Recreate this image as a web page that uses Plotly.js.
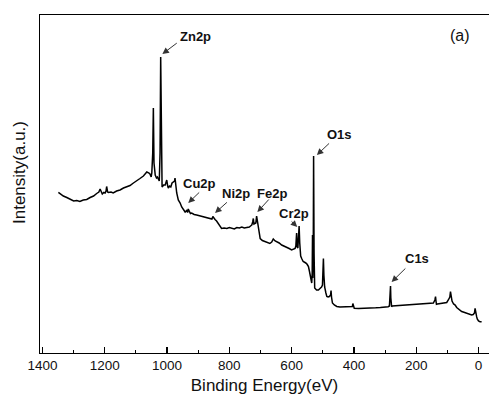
<!DOCTYPE html>
<html>
<head>
<meta charset="utf-8">
<script src="https://cdn.plot.ly/plotly-3.0.1.min.js"></script>
<style>
  html, body { margin: 0; padding: 0; background: #fff; overflow: hidden; }
  #chart { width: 489px; height: 396px; }
</style>
</head>
<body>
<div id="chart"></div>
<script>
// Binding energy (eV)
const energy = [1349, 1340, 1333, 1322, 1312, 1300, 1290, 1280, 1269, 1258, 1247, 1236, 1226, 1219, 1215, 1211, 1208, 1203, 1199, 1196, 1194, 1191, 1188, 1180, 1173, 1162, 1151, 1140, 1130, 1119, 1108, 1097, 1087, 1076, 1065, 1058, 1055, 1051, 1049, 1046, 1044, 1042, 1038, 1034, 1031, 1025, 1022.5, 1020.5, 1018.5, 1016, 1011, 1006, 1003, 1001, 998, 996, 992, 988, 984, 980, 976, 974.5, 972, 969, 964, 958, 953, 948, 942, 937, 934, 932, 929, 925, 921, 913, 905, 894, 884, 873, 862, 856, 853, 851, 846, 841, 833, 825, 817, 808, 800, 792, 784, 776, 768, 760, 752, 744, 736, 730, 728, 725, 723, 721, 718, 715, 712.5, 710.5, 707, 704, 701, 694, 686, 678, 670, 664, 659, 653, 648, 640, 632, 624, 616, 608, 600, 594, 589, 586.5, 584, 582, 580, 578, 576, 574, 571, 567, 563, 557, 552, 549, 546, 543, 541, 538, 535.5, 534, 533, 532, 530.5, 529.5, 528, 526, 520, 514, 509, 504, 501, 499, 498, 496.5, 494, 490, 487, 483, 479, 475, 473.5, 472, 469, 463, 455, 445, 430, 418, 410, 405, 403.5, 402, 399, 385, 370, 359, 345, 330, 315, 306, 296, 290, 286, 284, 282.5, 281.5, 280.5, 279, 277, 265, 252, 225, 198, 172, 145, 140, 138, 136.5, 135, 132, 120, 110, 102, 97, 92, 90, 88.5, 87, 85, 80, 75, 70, 62, 54, 49, 44, 38, 33, 27, 22, 17, 13, 11, 9.5, 8, 6, 4, 0, -5, -10, -15];
// Intensity (a.u.)
const intensity = [160.7, 158.5, 157, 155.5, 154, 152, 152.5, 151.5, 153, 153.5, 155.5, 157, 159.5, 161, 164, 160, 159, 160.5, 160, 162, 166.5, 161, 160.5, 161, 160, 162, 163, 165, 166.5, 167.5, 170, 172, 174.5, 177, 181, 180, 179, 176, 180, 200, 245, 190, 178, 175, 176, 172, 200, 296, 200, 166, 168, 168, 171, 173, 167, 165, 167, 166, 170, 171, 172, 175, 168, 160, 153, 150, 146, 143, 141, 142.5, 140.5, 144, 141, 139.5, 140, 138.5, 138, 137, 136, 135.5, 134.5, 134, 136.5, 135.5, 133.5, 132, 128, 124.5, 125, 124.5, 125.5, 125, 124, 125.5, 125, 126, 125, 125.5, 126, 127.5, 128, 131, 134.5, 129, 129.5, 130, 137, 133, 124.5, 118, 114.5, 112.5, 111.5, 110, 109.5, 111, 114, 112, 111.5, 110, 108, 107, 105.5, 104.5, 103, 103.5, 104.5, 107, 120, 106, 105, 116, 127, 110, 97, 94, 91.5, 90.5, 89.5, 88, 86.5, 82, 79.5, 74, 70, 80, 118, 75, 110, 197, 100, 65, 63, 63, 64.5, 66, 68, 80, 94.5, 78, 66, 60, 56.5, 56, 56.5, 58, 62.5, 56, 50, 48, 46.5, 46, 46, 46.5, 46, 46.5, 49.5, 46, 44.7, 44.5, 44.5, 44.8, 45, 45.2, 45.5, 45.7, 46, 46.3, 47, 55, 67, 55, 47, 46.3, 47, 47.3, 47.5, 48, 48.3, 49, 50, 53, 56.3, 52, 48.7, 49, 49.3, 49.7, 50.5, 53, 56, 61.3, 56, 53, 52, 49, 48, 45.5, 43, 41.5, 41, 40.3, 39.5, 39, 38.5, 38, 38.5, 40, 44.7, 40, 37, 36.3, 34, 32, 31.3, 31.3];
// Peak labels
const peakLabels = ['Zn2p', 'Cu2p', 'Ni2p', 'Fe2p', 'Cr2p', 'O1s', 'C1s'];
const panelLabel = '(a)';
const xTitle = 'Binding Energy(eV)';
const yTitle = 'Intensity(a.u.)';

// label placement (text centre, arrow tail, arrow head) in data coordinates
const labelPos = [
  {tx: 910, ty: 317, ax: 964, ay: 311, hx: 1015, hy: 299},
  {tx: 896, ty: 170, ax: 892, ay: 162, hx: 932, hy: 150},
  {tx: 779, ty: 160, ax: 803, ay: 152, hx: 846, hy: 140},
  {tx: 663, ty: 160, ax: 669, ay: 155, hx: 710, hy: 141},
  {tx: 594, ty: 140, ax: 605, ay: 133, hx: 582, hy: 126},
  {tx: 445, ty: 219, ax: 475, ay: 211, hx: 519, hy: 198},
  {tx: 196, ty: 95, ax: 230, ay: 86, hx: 279, hy: 71}
];

const FONT = 'Liberation Sans, Arial, sans-serif';
const annotations = [];
peakLabels.forEach((lab, i) => {
  const p = labelPos[i];
  annotations.push({
    x: p.tx, y: p.ty, xref: 'x', yref: 'y', text: '<b>' + lab + '</b>',
    showarrow: false, font: {family: FONT, size: 13, color: '#111'},
    xanchor: 'center', yanchor: 'middle'
  });
  annotations.push({
    x: p.hx, y: p.hy, xref: 'x', yref: 'y', ax: p.ax, ay: p.ay, axref: 'x', ayref: 'y',
    text: '', showarrow: true, arrowhead: 2, arrowsize: 1.3, arrowwidth: 1,
    arrowcolor: '#333', standoff: 0, startstandoff: 0
  });
});
annotations.push({
  x: 59, y: 318, xref: 'x', yref: 'y', text: panelLabel, showarrow: false,
  font: {family: FONT, size: 16, color: '#111'}, xanchor: 'center', yanchor: 'middle'
});
annotations.push({
  x: -0.0457, y: 0.534, xref: 'paper', yref: 'paper', text: yTitle, showarrow: false,
  textangle: -90, font: {family: FONT, size: 17, color: '#111'}, xanchor: 'center', yanchor: 'middle'
});

const trace = {
  x: energy, y: intensity, type: 'scatter', mode: 'lines',
  line: {color: '#000', width: 1.5}, hoverinfo: 'skip'
};

const layout = {
  width: 489, height: 396,
  margin: {l: 40, r: 0, t: 15, b: 43, pad: 0},
  paper_bgcolor: '#fff', plot_bgcolor: '#fff',
  showlegend: false,
  xaxis: {
    range: [1408, -33.7], showgrid: false, zeroline: false,
    showline: true, linecolor: '#000', linewidth: 1, mirror: true,
    ticks: 'inside', ticklen: 6, tickwidth: 1.2, tickcolor: '#000',
    tick0: 0, dtick: 200,
    minor: {ticks: 'inside', ticklen: 3.5, tickwidth: 1, tickcolor: '#000', dtick: 100, showgrid: false},
    tickfont: {family: FONT, size: 13.5, color: '#111'},
    title: {text: xTitle, font: {family: FONT, size: 17, color: '#111'}, standoff: 6}
  },
  yaxis: {
    range: [0, 338], showgrid: false, zeroline: false,
    showline: true, linecolor: '#000', linewidth: 1, mirror: false,
    ticks: '', showticklabels: false
  },
  annotations: annotations
};

Plotly.newPlot('chart', [trace], layout, {displayModeBar: false, staticPlot: true});
</script>
</body>
</html>
